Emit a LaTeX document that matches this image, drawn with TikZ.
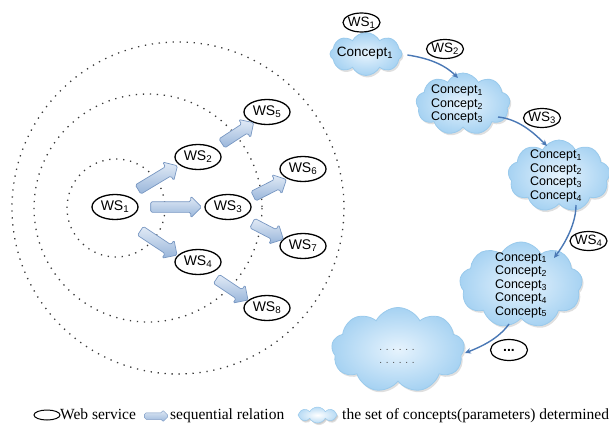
\documentclass[tikz,border=0pt]{standalone}
\usepackage{fontspec}
\setmainfont{Liberation Serif}
\setsansfont{Liberation Sans}
\usetikzlibrary{shapes.geometric,shapes.symbols,shapes.arrows,shadows,arrows.meta}

\definecolor{cloudin}{HTML}{E6F3FD}
\definecolor{cloudout}{HTML}{A6D2F2}
\definecolor{cloudedge}{HTML}{9ACAEC}
\definecolor{arrowtop}{HTML}{E2EBF6}
\definecolor{arrowbot}{HTML}{98B5DA}
\definecolor{arrowedge}{HTML}{7897C2}
\definecolor{flow}{HTML}{4A78B5}
\definecolor{ringgray}{HTML}{3A3A3A}

\tikzset{
  wsnode/.style={ellipse, draw=black, line width=1.3pt, fill=white, inner sep=0pt,
    minimum width=46pt, minimum height=25pt, font=\sffamily\fontsize{14}{16}\selectfont},
  wstag/.style={ellipse, draw=black, line width=1.2pt, fill=white, inner xsep=-1.5pt, inner ysep=0pt,
    minimum width=37pt, minimum height=19pt, font=\sffamily\fontsize{13.5}{15}\selectfont},
  ring/.style={draw=ringgray, line width=1.3pt, dash pattern=on 1.3pt off 5.7pt},
  blockarrow/.style={single arrow, draw=arrowedge, line width=0.7pt,
    top color=arrowtop, bottom color=arrowbot, minimum width=21pt,
    single arrow head extend=5.5pt, single arrow tip angle=90,
    inner xsep=0pt, inner ysep=5pt, rounded corners=1.5pt, sloped},
  conceptcloud/.style={cloud, cloud puffs=9, cloud puff arc=125, cloud ignores aspect,
    draw=cloudedge, line width=0.8pt, inner color=cloudin, outer color=cloudout,
    drop shadow={shadow xshift=1.5pt, shadow yshift=-2pt, opacity=0.25}},
  concepts/.style={align=center, font=\sffamily\fontsize{12.5}{13.5}\selectfont, inner sep=0pt},
  flowarrow/.style={draw=flow, line width=1.4pt, -{Stealth[length=6pt,width=5.5pt]}},
  legendtext/.style={anchor=base west, inner sep=0pt, font=\fontsize{15.5}{17}\selectfont},
}

\begin{document}
\begin{tikzpicture}[x=1pt,y=-1pt]
\useasboundingbox (0,0) rectangle (609,425);

% ---------- service composition rings ----------
\draw[ring] (116,208) circle[radius=49];
\draw[ring] (148,208) circle[radius=114];
\draw[ring] (178,208) circle[radius=166];

% ---------- web services ----------
\node[wsnode] (w1) at (115,207) {WS\textsubscript{1}};
\node[wsnode] (w2) at (198,157) {WS\textsubscript{2}};
\node[wsnode] (w3) at (228,207) {WS\textsubscript{3}};
\node[wsnode] (w4) at (198,262) {WS\textsubscript{4}};
\node[wsnode] (w5) at (267,112) {WS\textsubscript{5}};
\node[wsnode] (w6) at (303,169) {WS\textsubscript{6}};
\node[wsnode] (w7) at (303,246) {WS\textsubscript{7}};
\node[wsnode] (w8) at (267,308) {WS\textsubscript{8}};

% ---------- sequential relations ----------
\path ([shift={(-1,-3)}]w1.center) -- ([shift={(-1,-3)}]w2.center)
  node[midway, blockarrow, minimum height=46pt] {};
\path ([shift={(2,0)}]w1.center) -- ([shift={(2,0)}]w3.center)
  node[midway, blockarrow, minimum height=51pt] {};
\path ([shift={(0,7)}]w1.center) -- ([shift={(0,7)}]w4.center)
  node[midway, blockarrow, minimum height=44pt] {};
\path ([shift={(3,0)}]w2.center) -- ([shift={(3,0)}]w5.center)
  node[midway, blockarrow, minimum height=38pt] {};
\path ([shift={(2,1)}]w3.center) -- ([shift={(2,1)}]w6.center)
  node[midway, blockarrow, minimum height=37pt] {};
\path ([shift={(0,3.5)}]w3.center) -- ([shift={(0,3.5)}]w7.center)
  node[midway, blockarrow, minimum height=35pt] {};
\path ([shift={(-2.5,3)}]w4.center) -- ([shift={(-2.5,3)}]w8.center)
  node[midway, blockarrow, minimum height=38pt] {};

% ---------- concept sets ----------
\node[conceptcloud, cloud puffs=8, minimum width=72pt, minimum height=43pt] (c1) at (366,54) {};
\node[concepts, font=\sffamily\fontsize{13.5}{15}\selectfont] (t1) at (365,53) {Concept\textsubscript{1}};

\node[conceptcloud, minimum width=94pt, minimum height=62pt] (c2) at (463,104) {};
\node[concepts] (t2) at (457,104) {Concept\textsubscript{1}\\Concept\textsubscript{2}\\Concept\textsubscript{3}};

\node[conceptcloud, minimum width=102pt, minimum height=72pt] (c3) at (559,176) {};
\node[concepts] (t3) at (556,176) {Concept\textsubscript{1}\\Concept\textsubscript{2}\\Concept\textsubscript{3}\\Concept\textsubscript{4}};

\node[conceptcloud, minimum width=123pt, minimum height=86pt] (c4) at (521,285) {};
\node[concepts] (t4) at (521,285) {Concept\textsubscript{1}\\Concept\textsubscript{2}\\Concept\textsubscript{3}\\Concept\textsubscript{4}\\Concept\textsubscript{5}};

\node[conceptcloud, minimum width=133pt, minimum height=85pt] (c5) at (398,350) {};
\node[concepts, font=\sffamily\fontsize{10}{13}\selectfont, text=black!70] (t5) at (397,356) {. . . . . .\\. . . . . .};

% ---------- services applied between concept sets ----------
\draw[flowarrow] ([shift={(5,1)}]c1.east) .. controls +(20,3) and +(-14,-14) .. ([shift={(-5,-26)}]c2.center);
\draw[flowarrow] ([shift={(35,13)}]c2.center) .. controls +(20,2) and +(-14,-14) .. ([shift={(-12,-30)}]c3.center);
\draw[flowarrow] ([shift={(17,29)}]c3.center) .. controls +(0,18) and +(12,-16) .. ([shift={(33,-27)}]c4.center);
\draw[flowarrow] ([shift={(-12,39)}]c4.center) .. controls +(-10,14) and +(18,-7) .. ([shift={(67,3)}]c5.center);

\node[wstag] (s1) at (361.5,22.5) {WS\textsubscript{1}};
\node[wstag] (s2) at (445,49) {WS\textsubscript{2}};
\node[wstag] (s3) at (542,118) {WS\textsubscript{3}};
\node[wstag] (s4) at (588.5,241) {WS\textsubscript{4}};
\node[wstag, minimum height=21pt, font=\sffamily\bfseries\fontsize{14}{15}\selectfont] (s5) at (509,350) {...};

% ---------- legend ----------
\node[ellipse, draw=black, line width=1pt, minimum width=26pt, minimum height=10pt, inner sep=0pt] (lgws) at (47,415) {};
\node[legendtext] (lgwst) at (60,419) {Web service};
\node[blockarrow, minimum width=12pt, inner ysep=3pt, single arrow head extend=3pt, minimum height=24pt, line width=0.5pt] (lgarr) at (155,416) {};
\node[legendtext] (lgarrt) at (170,419) {sequential relation};
\node[conceptcloud, cloud puffs=8, minimum width=39pt, minimum height=16pt, line width=0.5pt,
  inner color=white, outer color=cloudout!80, drop shadow={shadow xshift=1pt, shadow yshift=-1pt, opacity=0.2}] (lgcl) at (317.5,415) {};
\node[legendtext] (lgclt) at (342,419) {the set of concepts(parameters) determined};
\end{tikzpicture}
\end{document}
